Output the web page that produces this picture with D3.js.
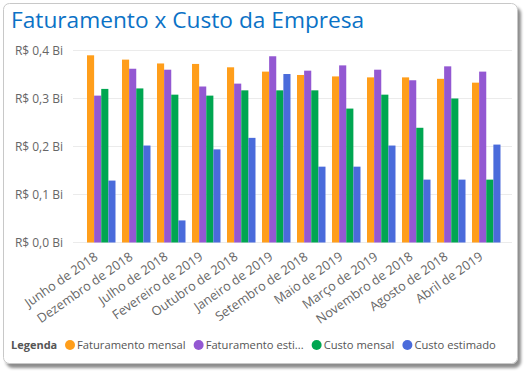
<!DOCTYPE html>
<html>
<head>
<meta charset="utf-8">
<script src="https://cdn.jsdelivr.net/npm/d3@7"></script>
<style>
  body { margin: 0; background: #fff; }
  svg { display: block; font-family: "Open Sans", sans-serif; }
</style>
</head>
<body>
<svg id="chart"></svg>
<script>
// meses (ordem do eixo)
const meses = ["Junho de 2018", "Dezembro de 2018", "Julho de 2018", "Fevereiro de 2019",
  "Outubro de 2018", "Janeiro de 2019", "Setembro de 2018", "Maio de 2019",
  "Março de 2019", "Novembro de 2018", "Agosto de 2018", "Abril de 2019"];

const series = ["Faturamento mensal", "Faturamento estimado", "Custo mensal", "Custo estimado"];
const legendLabels = ["Faturamento mensal", "Faturamento esti...", "Custo mensal", "Custo estimado"];
const colors = ["#FF9E1B", "#9358D2", "#00A651", "#4A6BDB"];

// valores em bilhões de R$
const faturamentoMensal   = [0.390, 0.381, 0.373, 0.372, 0.365, 0.356, 0.349, 0.346, 0.344, 0.344, 0.341, 0.333];
const faturamentoEstimado = [0.306, 0.362, 0.360, 0.325, 0.331, 0.388, 0.358, 0.369, 0.360, 0.338, 0.367, 0.356];
const custoMensal         = [0.320, 0.321, 0.308, 0.306, 0.317, 0.317, 0.317, 0.279, 0.308, 0.239, 0.300, 0.131];
const custoEstimado       = [0.129, 0.202, 0.046, 0.194, 0.218, 0.351, 0.158, 0.158, 0.202, 0.131, 0.131, 0.204];

const yTicks = [0, 0.1, 0.2, 0.3, 0.4];

const width = 527, height = 376;
const values = [faturamentoMensal, faturamentoEstimado, custoMensal, custoEstimado];

const svg = d3.select("#chart")
  .attr("width", width)
  .attr("height", height);

// sombra do cartão
const defs = svg.append("defs");
const f = defs.append("filter").attr("id", "shadow")
  .attr("x", "-5%").attr("y", "-5%").attr("width", "115%").attr("height", "115%");
f.append("feDropShadow").attr("dx", 3).attr("dy", 4).attr("stdDeviation", 1.5)
  .attr("flood-color", "#000").attr("flood-opacity", 0.45);

svg.append("rect")
  .attr("x", 3.5).attr("y", 3.5)
  .attr("width", 514).attr("height", 360)
  .attr("rx", 6)
  .attr("fill", "#fff")
  .attr("stroke", "#c8c8c8")
  .attr("filter", "url(#shadow)");

// título
svg.append("text")
  .attr("x", 11).attr("y", 28)
  .attr("fill", "#0B72C6")
  .attr("font-size", 22.7)
  .text("Faturamento x Custo da Empresa");

const x0 = d3.scaleBand()
  .domain(meses)
  .range([80, 507.5])
  .paddingInner(0.186)
  .paddingOuter(0.2);

const x1 = d3.scaleBand()
  .domain(series)
  .range([0, x0.bandwidth()]);

const y = d3.scaleLinear()
  .domain([0, 0.4])
  .range([242.5, 50.5]);

// grade
svg.append("g")
  .selectAll("line")
  .data(yTicks)
  .join("line")
  .attr("x1", 73).attr("x2", 512)
  .attr("y1", d => y(d)).attr("y2", d => y(d))
  .attr("stroke", "#ebebeb")
  .attr("stroke-width", 1);

// eixo y
const fmt = d3.format(".1f");
svg.append("g")
  .attr("font-size", 12)
  .attr("fill", "#666")
  .attr("text-anchor", "end")
  .selectAll("text")
  .data(yTicks)
  .join("text")
  .attr("x", 63)
  .attr("y", d => y(d))
  .attr("dy", "0.35em")
  .text(d => "R$ " + fmt(d).replace(".", ",") + " Bi");

// barras
svg.append("g")
  .selectAll("g")
  .data(meses)
  .join("g")
  .attr("transform", d => `translate(${x0(d)},0)`)
  .selectAll("rect")
  .data((d, i) => series.map((s, j) => ({ s, j, v: values[j][i] })))
  .join("rect")
  .attr("x", d => x1(d.s))
  .attr("width", x1.bandwidth())
  .attr("y", d => y(d.v))
  .attr("height", d => y(0) - y(d.v))
  .attr("fill", d => colors[d.j]);

// eixo x
svg.append("g")
  .attr("font-size", 12.8)
  .attr("fill", "#666")
  .attr("text-anchor", "end")
  .selectAll("text")
  .data(meses)
  .join("text")
  .attr("transform", d => `translate(${x0(d) + x0.bandwidth() / 2 - 5},${255}) rotate(-35)`)
  .attr("dy", "0.35em")
  .text(d => d);

// legenda
const leg = svg.append("g")
  .attr("font-size", 11.2)
  .attr("fill", "#555");

leg.append("text")
  .attr("x", 11).attr("y", 349)
  .attr("font-weight", "bold")
  .attr("font-size", 11)
  .text("Legenda");

let lx = 70;
legendLabels.forEach((label, i) => {
  leg.append("circle")
    .attr("cx", lx).attr("cy", 345)
    .attr("r", 5)
    .attr("fill", colors[i]);
  const t = leg.append("text")
    .attr("x", lx + 7).attr("y", 349)
    .text(label);
  lx += 7 + t.node().getComputedTextLength() + 13;
});
</script>
</body>
</html>
